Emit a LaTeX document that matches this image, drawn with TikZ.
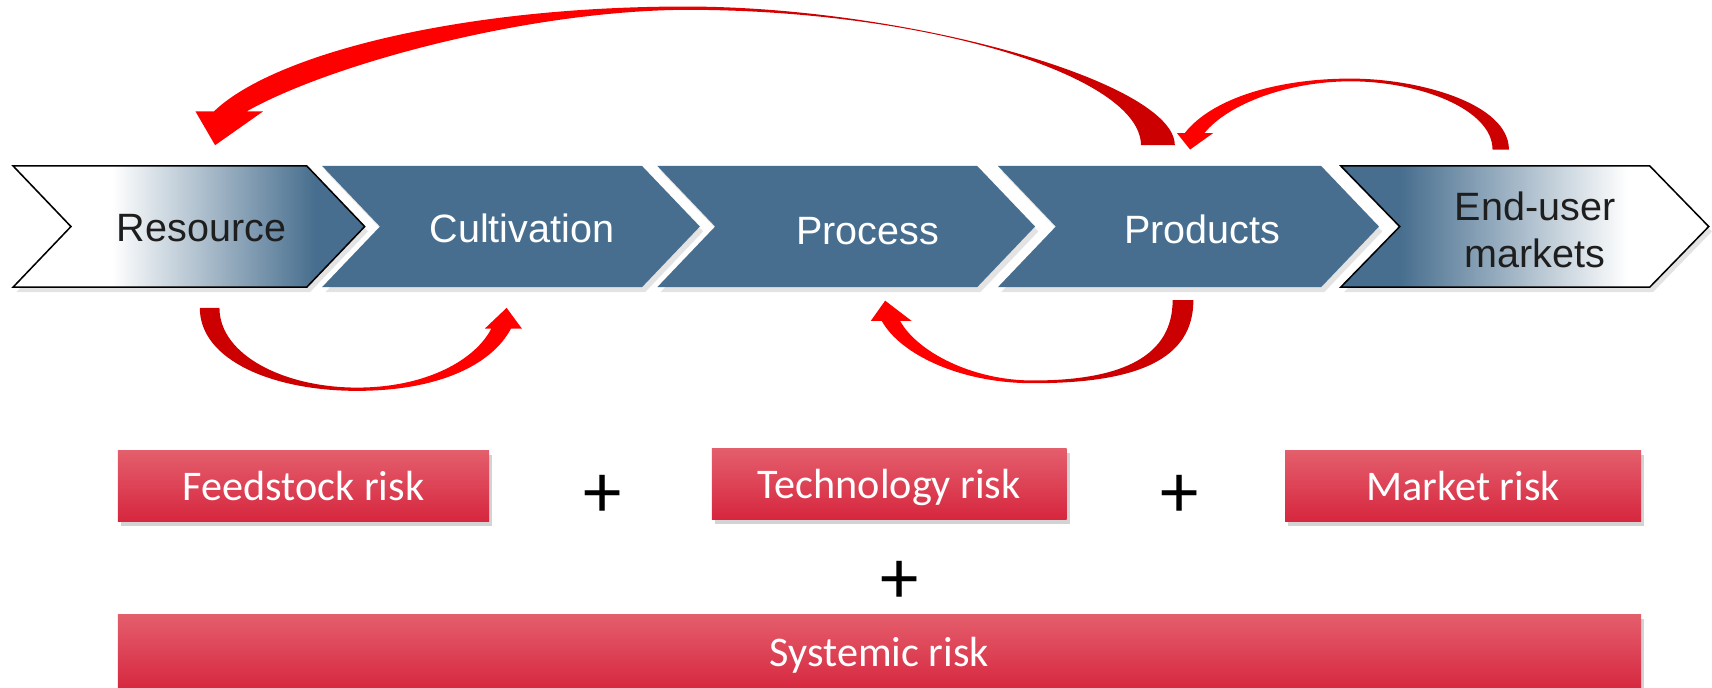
\documentclass[tikz,border=0pt]{standalone}
\usepackage{fontspec}
\setmainfont{Carlito}
\newfontfamily\arialfont{Liberation Sans}
\usepackage{tikz}
\usetikzlibrary{shadows}

\definecolor{chevblue}{RGB}{71,110,142}
\definecolor{chevtext}{RGB}{30,30,30}
\definecolor{arrdark}{RGB}{204,0,0}
\definecolor{arrbright}{RGB}{255,0,0}
\definecolor{risktop}{RGB}{228,94,108}
\definecolor{riskmid}{RGB}{229,52,75}
\definecolor{riskbot}{RGB}{214,38,62}

\pgfdeclarehorizontalshading{resfade}{100bp}{color(0bp)=(white); color(39bp)=(white); color(68bp)=(chevblue); color(100bp)=(chevblue)}
\pgfdeclarehorizontalshading{endfade}{100bp}{color(0bp)=(chevblue); color(33bp)=(chevblue); color(64bp)=(white); color(100bp)=(white)}
\pgfdeclarehorizontalshading{brightleft}{100bp}{color(0bp)=(arrbright); color(44bp)=(arrbright); color(57bp)=(arrdark); color(100bp)=(arrdark)}
\pgfdeclarehorizontalshading{brightright}{100bp}{color(0bp)=(arrdark); color(43bp)=(arrdark); color(56bp)=(arrbright); color(100bp)=(arrbright)}

\begin{document}
\begin{tikzpicture}[x=0.1mm, y=-0.1mm,
    shadowed/.style={drop shadow={opacity=0.22, shadow xshift=0.3mm, shadow yshift=-0.45mm}},
    chevlabel/.style={font=\arialfont\fontsize{10.3}{12.1}\selectfont, align=center},
    riskbox/.style={shading=axis, top color=risktop, middle color=riskmid, bottom color=riskbot,
      text=white, font=\fontsize{11}{13}\selectfont, minimum height=6.5mm, inner sep=0pt,
      text height=0.72em, text depth=0pt,
      drop shadow={opacity=0.35, shadow xshift=0.3mm, shadow yshift=-0.4mm}},
    plussign/.style={font=\fontsize{20}{20}\selectfont, inner sep=0pt}]
  \useasboundingbox (0,0) rectangle (1568,630);

  % Draw chevrons
  \shade[shading=resfade, draw=black, line width=0.4pt, shadowed] (12,152) -- (281,152) -- (334,207.5) -- (281,263) -- (12,263) -- (65,207.5) -- cycle;
  \fill[chevblue, shadowed] (295,152) -- (588,152) -- (641,207.5) -- (588,263) -- (295,263) -- (348,207.5) -- cycle;
  \fill[chevblue, shadowed] (602,152) -- (895,152) -- (948,207.5) -- (895,263) -- (602,263) -- (655,207.5) -- cycle;
  \fill[chevblue, shadowed] (914,152) -- (1210,152) -- (1263,207.5) -- (1210,263) -- (914,263) -- (967,207.5) -- cycle;
  \shade[shading=endfade, draw=black, line width=0.4pt, shadowed] (1228,152) -- (1511,152) -- (1565,207.5) -- (1511,263) -- (1228,263) -- (1282,207.5) -- cycle;

  % Chevron labels
  \node[chevlabel, text=chevtext] (res) at (184.5,209) {Resource};
  \node[chevlabel, text=white] (cult) at (478,209) {Cultivation};
  \node[chevlabel, text=white] (proc) at (794.5,212) {Process};
  \node[chevlabel, text=white] (prod) at (1101,210) {Products};
  \node[chevlabel, text=chevtext] (endu) at (1406,210.7) {End-user\\markets};

  % Draw big arrow (Products back to Resource)
  \shade[shading=brightleft] (1076,133) .. controls (1076,75) and (830,6) .. (628,6)
    .. controls (420,6) and (250,50) .. (196,102)
    -- (179,102) -- (197,133) -- (241,102) -- (226,102)
    .. controls (300,60) and (480,10) .. (628,9)
    .. controls (850,9) and (1045,70) .. (1045,133) -- cycle;
  % Draw small top arrow (End-user markets back to Products)
  \shade[shading=brightleft] (1382,137) .. controls (1382,95) and (1300,72) .. (1237,72)
    .. controls (1170,72) and (1110,90) .. (1085,122)
    -- (1078,122) -- (1090,137) -- (1111,122) -- (1103,122)
    .. controls (1125,95) and (1180,74.5) .. (1237,74.5)
    .. controls (1300,74.5) and (1367,100) .. (1367,137) -- cycle;
  % Draw bottom arrow (Resource to Cultivation)
  \shade[shading=brightright] (183,282) .. controls (183,330) and (250,358) .. (327,358)
    .. controls (400,358) and (450,335) .. (468,301)
    -- (478,301) -- (464,282) -- (444,301) -- (450,301)
    .. controls (435,330) and (390,355) .. (327,355)
    .. controls (260,355) and (201,325) .. (201,282) -- cycle;
  % Draw bottom arrow (Products back to Process)
  \shade[shading=brightleft] (1093,275) .. controls (1093,330) and (1040,351) .. (946,351)
    .. controls (880,351) and (825,325) .. (807.6,294)
    -- (797.5,294) -- (810.7,275.4) -- (835,294) -- (824.4,294)
    .. controls (840,322) and (890,348.5) .. (946,348.5)
    .. controls (1030,348.5) and (1074,325) .. (1074,275) -- cycle;

  % Risk boxes
  \node[riskbox, minimum width=34mm] (feed) at (278,445.5) {Feedstock risk};
  \node[riskbox, minimum width=32.5mm] (tech) at (814.5,443.5) {Technology risk};
  \node[riskbox, minimum width=32.6mm] (mark) at (1340,445.5) {Market risk};
  \node[riskbox, minimum width=139.5mm, minimum height=7mm] (sys) at (805.5,598) {Systemic risk};

  % Plus signs
  \node[plussign] (plusa) at (552,455) {+};
  \node[plussign] (plusb) at (1080,455) {+};
  \node[plussign] (plusc) at (824,533) {+};
\end{tikzpicture}
\end{document}
